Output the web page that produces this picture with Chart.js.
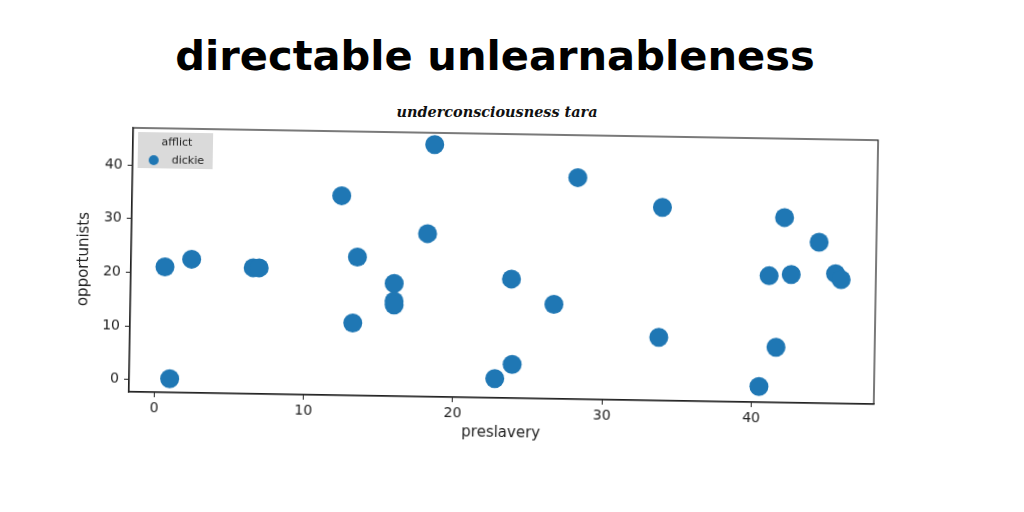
<!DOCTYPE html>
<html>
<head>
<meta charset="utf-8">
<script src="https://cdn.jsdelivr.net/npm/chart.js@4.4.1/dist/chart.umd.min.js"></script>
<style>
    html, body { margin: 0; padding: 0; background: #fff; }
    body { width: 1024px; height: 512px; position: relative; overflow: hidden; }
    #title {
        position: absolute; left: 0; width: 990px; top: 35px;
        text-align: center; white-space: nowrap; line-height: 1;
        font-family: 'Comic Sans MS', 'Humor Sans', 'DejaVu Sans', sans-serif;
        font-weight: bold; font-size: 44px; color: #000;
    }
    #subtitle {
        position: absolute; left: 0; width: 994px; top: 105px;
        text-align: center; white-space: nowrap; line-height: 1;
        font-family: 'DejaVu Serif', 'Liberation Serif', serif;
        font-style: italic; font-weight: bold; font-size: 16px; color: #111;
    }
    #plot {
        position: absolute; left: 0; top: 0; width: 1024px; height: 512px;
        transform-origin: 503.5px 266px;
        transform: rotate(0.95deg);
    }
    #legend {
        position: absolute; left: 136px; top: 138px; width: 75px; height: 36px;
        background: #dadada; font-family: 'DejaVu Sans', sans-serif; font-size: 11px; color: #222;
    }
    #legend .ttl { position: absolute; left: 0; width: 78px; top: 3px; text-align: center; }
    #legend .dot { position: absolute; left: 11px; top: 23px; width: 10px; height: 10px; border-radius: 50%; }
    #legend .lbl { position: absolute; left: 34px; top: 21px; }
</style>
</head>
<body>
<div id="title"><span>directable unlearnableness</span></div>
<div id="subtitle"><span>underconsciousness tara</span></div>
<div id="plot">
    <canvas id="chart" width="1024" height="512"></canvas>
    <div id="legend"></div>
</div>
<script>
// 数据
const xValues = [0.58, 1.02, 2.36, 6.49, 6.89, 12.34, 13.46, 13.22, 15.95, 15.96, 15.97, 18.13, 18.51, 22.79,
                 23.8, 23.94, 26.67, 28.13, 33.83, 33.73, 40.49, 41.59, 41.05, 42.02, 42.53, 44.36, 45.5, 45.88];
const yValues = [21.1, 0.25, 22.6, 21.2, 21.2, 34.9, 23.5, 11.2, 18.7, 15.4, 14.7, 28.1, 44.7, 1.3,
                 19.9, 4.0, 15.3, 39.0, 33.7, 9.5, 0.65, 8.0, 21.3, 32.2, 21.6, 27.7, 21.9, 20.8];
const xTicks = [0, 10, 20, 30, 40];
const yTicks = [0, 10, 20, 30, 40];
const seriesName = 'dickie';
const legendTitle = 'afflict';
const xTitle = 'preslavery';
const yTitle = 'opportunists';

const pointColor = '#1f77b4';
const inkColor = '#222';

// 标题宽度适配
function fitWidth(id, target) {
    const el = document.getElementById(id);
    const span = el.querySelector('span');
    const size = parseFloat(getComputedStyle(el).fontSize);
    el.style.fontSize = (size * target / span.offsetWidth) + 'px';
}
fitWidth('title', 640);
fitWidth('subtitle', 201);

// 坐标框
const framePlugin = {
    id: 'frame',
    afterDraw(chart) {
        const { ctx, chartArea: a } = chart;
        ctx.save();
        ctx.strokeStyle = inkColor;
        ctx.lineWidth = 1.2;
        ctx.strokeRect(a.left, a.top, a.right - a.left, a.bottom - a.top);
        ctx.restore();
    }
};

const tickFont = { family: 'DejaVu Sans', size: 14 };
const titleFont = { family: 'DejaVu Sans', size: 15 };

const chart = new Chart(document.getElementById('chart'), {
    type: 'scatter',
    data: {
        datasets: [{
            label: seriesName,
            data: xValues.map((x, i) => ({ x: x, y: yValues[i] })),
            backgroundColor: pointColor,
            borderWidth: 0,
            pointRadius: 9.5,
            pointHoverRadius: 9.5
        }]
    },
    options: {
        responsive: false,
        animation: false,
        events: [],
        layout: { padding: { left: 0, top: 134, right: 148, bottom: 0 } },
        plugins: {
            legend: { display: false },
            tooltip: { enabled: false }
        },
        scales: {
            x: {
                type: 'linear',
                min: -1.7,
                max: 48.2,
                afterBuildTicks: s => { s.ticks = xTicks.map(v => ({ value: v })); },
                afterFit: s => { s.height = 114; },
                grid: { drawOnChartArea: false, drawTicks: true, tickLength: 5, color: inkColor },
                border: { display: true, color: inkColor, width: 1.2 },
                ticks: { padding: 3, color: inkColor, font: tickFont, maxRotation: 0, autoSkip: false },
                title: { display: true, text: xTitle, color: inkColor, font: titleFont, padding: { top: 0, bottom: 70 } }
            },
            y: {
                type: 'linear',
                min: -2.3,
                max: 46.9,
                afterBuildTicks: s => { s.ticks = yTicks.map(v => ({ value: v })); },
                afterFit: s => { s.width = 131; },
                grid: { drawOnChartArea: false, drawTicks: true, tickLength: 5, color: inkColor },
                border: { display: true, color: inkColor, width: 1.2 },
                ticks: { padding: 5, color: inkColor, font: tickFont, autoSkip: false },
                title: { display: true, text: yTitle, color: inkColor, font: titleFont, padding: { top: 75, bottom: 0 } }
            }
        }
    },
    plugins: [framePlugin]
});

// 图例
const ds = chart.data.datasets[0];
document.getElementById('legend').innerHTML =
    '<div class="ttl">' + legendTitle + '</div>' +
    '<div class="dot" style="background:' + ds.backgroundColor + '"></div>' +
    '<div class="lbl">' + ds.label + '</div>';
</script>
</body>
</html>
